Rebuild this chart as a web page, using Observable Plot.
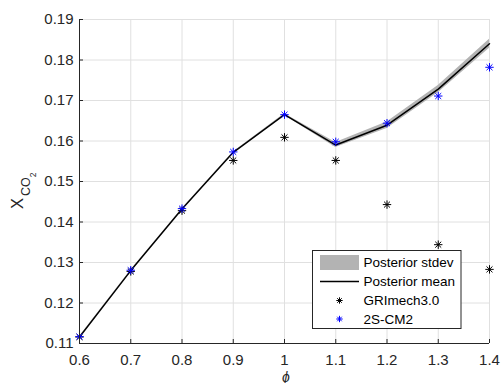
<!DOCTYPE html>
<html><head><meta charset="utf-8">
<script src="https://cdn.jsdelivr.net/npm/d3@7"></script>
<script src="https://cdn.jsdelivr.net/npm/@observablehq/plot@0.6"></script>
<style>
body{margin:0;background:#fff;}
#wrap{position:relative;width:502px;height:383px;}
</style></head><body><div id="wrap"></div>
<script>
const phi      = [0.6, 0.7, 0.8, 0.9, 1.0, 1.1, 1.2, 1.3, 1.4];
const postMean = [0.1116, 0.1280, 0.1432, 0.1572, 0.1665, 0.1590, 0.1639, 0.1728, 0.1840];
const postStd  = [0.0001, 0.0001, 0.0001, 0.0001, 0.0002, 0.0006, 0.0008, 0.0009, 0.0011];
const griMech  = [0.1116, 0.1278, 0.1428, 0.1552, 0.1609, 0.1552, 0.1443, 0.1344, 0.1283];
const cm2      = [0.1117, 0.1281, 0.1433, 0.1573, 0.1665, 0.1598, 0.1644, 0.1711, 0.1782];
const xTicks   = [0.6, 0.7, 0.8, 0.9, 1.0, 1.1, 1.2, 1.3, 1.4];
const yTicks   = [0.11, 0.12, 0.13, 0.14, 0.15, 0.16, 0.17, 0.18, 0.19];
const legendLabels = ["Posterior stdev", "Posterior mean", "GRImech3.0", "2S-CM2"];

const W = 502, H = 383, mL = 79, mR = 13, mT = 19, mB = 40;
const plotH = H - mT - mB, plotW = W - mL - mR;
const axisColor = "#262626", gridColor = "#e0e0e0";
const fontFam = "'Liberation Sans', Arial, Helvetica, sans-serif";

const rows = phi.map((x, i) => ({x, mean: postMean[i], lo: postMean[i] - postStd[i], hi: postMean[i] + postStd[i], gri: griMech[i], cm: cm2[i]}));

const star = {draw(ctx, size) {
  const r = Math.sqrt(size / Math.PI), d = r * Math.SQRT1_2;
  ctx.moveTo(0, -r); ctx.lineTo(0, r);
  ctx.moveTo(-r, 0); ctx.lineTo(r, 0);
  ctx.moveTo(-d, -d); ctx.lineTo(d, d);
  ctx.moveTo(-d, d); ctx.lineTo(d, -d);
}};

const chart = Plot.plot({
  width: W, height: H,
  marginLeft: mL, marginRight: mR, marginTop: mT, marginBottom: mB,
  style: {fontFamily: fontFam, fontSize: "15px", color: axisColor, background: "#fff", overflow: "visible"},
  x: {domain: [0.6, 1.4]},
  y: {domain: [0.11, 0.19]},
  marks: [
    Plot.ruleX(xTicks, {stroke: gridColor, strokeWidth: 1}),
    Plot.ruleY(yTicks, {stroke: gridColor, strokeWidth: 1}),
    Plot.areaY(rows, {x: "x", y1: "lo", y2: "hi", fill: "#b3b3b3"}),
    Plot.line(rows, {x: "x", y: "mean", stroke: "#000", strokeWidth: 1.5}),
    Plot.dot(rows, {x: "x", y: "gri", symbol: star, r: 4.2, stroke: "#000", fill: "none", strokeWidth: 1}),
    Plot.dot(rows, {x: "x", y: "cm", symbol: star, r: 4.2, stroke: "#0000ff", fill: "none", strokeWidth: 1}),
    Plot.ruleX([0.6], {stroke: axisColor, strokeWidth: 1}),
    Plot.ruleY([0.11], {stroke: axisColor, strokeWidth: 1}),
    Plot.tickX(xTicks, {x: d => d, insetTop: plotH - 4, stroke: axisColor}),
    Plot.tickY(yTicks, {y: d => d, insetRight: plotW - 4, stroke: axisColor}),
    Plot.axisX(xTicks, {tickSize: 0, tickPadding: 11, label: null, tickFormat: d => String(+d.toFixed(1))}),
    Plot.axisY(yTicks, {tickSize: 0, tickPadding: 6, label: null, tickFormat: d => String(+d.toFixed(2))})
  ]
});
document.getElementById("wrap").appendChild(chart);

const svg = d3.select(chart);
// y label X_{CO_2}
const yl = svg.append("text")
  .attr("transform", "translate(22.7,209) rotate(-90)")
  .attr("text-anchor", "start")
  .attr("fill", axisColor).attr("font-family", fontFam);
yl.append("tspan").attr("font-size", 16.5).text("X");
yl.append("tspan").attr("font-size", 12.5).attr("dx", 2).attr("dy", 7).text("CO");
yl.append("tspan").attr("font-size", 8.5).attr("dy", 6).text("2");
// x label phi
svg.append("text").attr("x", 286).attr("y", 381.5).attr("text-anchor", "middle")
  .attr("font-size", 14).attr("font-style", "italic").attr("fill", axisColor)
  .attr("font-family", fontFam).text("ϕ");

// legend
const lg = svg.append("g").attr("font-family", fontFam).attr("font-size", 13.5)
  .attr("fill", "#000").attr("text-anchor", "start");
lg.append("rect").attr("x", 312.5).attr("y", 250.5).attr("width", 148.5).attr("height", 78)
  .attr("fill", "#fff").attr("stroke", axisColor).attr("stroke-width", 1);
const rowY = [262.5, 281.5, 300.5, 319];
lg.append("rect").attr("x", 320).attr("y", rowY[0] - 7.5).attr("width", 39).attr("height", 15).attr("fill", "#b3b3b3");
lg.append("line").attr("x1", 320).attr("x2", 359).attr("y1", rowY[1]).attr("y2", rowY[1]).attr("stroke", "#000").attr("stroke-width", 1.5);
const starPath = d3.symbol(star, Math.PI * 3.2 * 3.2)();
lg.append("path").attr("d", starPath).attr("transform", `translate(339.5,${rowY[2]})`).attr("stroke", "#000").attr("fill", "none");
lg.append("path").attr("d", starPath).attr("transform", `translate(339.5,${rowY[3]})`).attr("stroke", "#0000ff").attr("fill", "none");
legendLabels.forEach((t, i) => {
  lg.append("text").attr("x", 363.5).attr("y", rowY[i]).attr("dy", "0.35em").attr("text-anchor", "start").text(t);
});
</script></body></html>
